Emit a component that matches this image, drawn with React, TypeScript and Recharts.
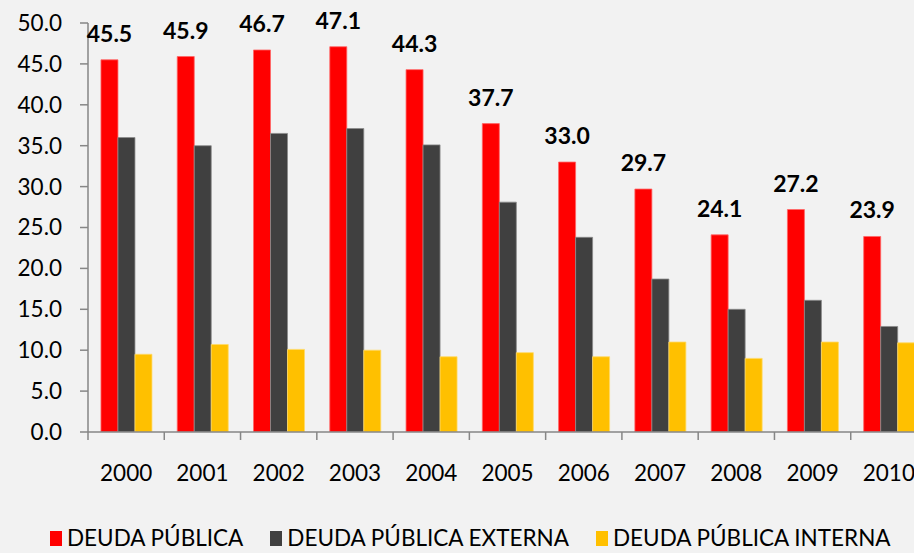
import { BarChart, Bar, XAxis, YAxis, LabelList } from 'recharts';

const years = ['2000', '2001', '2002', '2003', '2004', '2005', '2006', '2007', '2008', '2009', '2010'];
const deudaPublica = [45.5, 45.9, 46.7, 47.1, 44.3, 37.7, 33.0, 29.7, 24.1, 27.2, 23.9];
const deudaExterna = [36.0, 35.0, 36.5, 37.1, 35.1, 28.1, 23.8, 18.7, 15.0, 16.1, 12.9];
const deudaInterna = [9.5, 10.7, 10.1, 10.0, 9.2, 9.7, 9.2, 11.0, 9.0, 11.0, 10.9];
const yTicks = [0, 5, 10, 15, 20, 25, 30, 35, 40, 45, 50];

const series = [
  { key: 'publica', name: 'DEUDA PÚBLICA', color: '#ff0000', stroke: '#ff6666' },
  { key: 'externa', name: 'DEUDA PÚBLICA EXTERNA', color: '#404040', stroke: '#8a8a8a' },
  { key: 'interna', name: 'DEUDA PÚBLICA INTERNA', color: '#ffc000', stroke: '#ffd966' },
];

const data = years.map((year, i) => ({
  year,
  publica: deudaPublica[i],
  externa: deudaExterna[i],
  interna: deudaInterna[i],
}));

const FONT = 'Lato, "Open Sans", sans-serif';
const AXIS = '#868686';
const TICK_SIZE = 8;
const X_MARGIN = 25;

// category ticks sit between the groups, like the spreadsheet original
function YearTick(props: any) {
  const { x, y, payload } = props;
  const half = payload.offset || 0;
  const axisY = y - X_MARGIN - TICK_SIZE;
  return (
    <g>
      <line x1={x - half} x2={x - half} y1={axisY} y2={axisY + TICK_SIZE} stroke={AXIS} strokeWidth={1.5} />
      <text x={x} y={y} dy="0.71em" textAnchor="middle" fill="#000" fontSize={22.5} fontFamily={FONT}>
        {payload.value}
      </text>
    </g>
  );
}

export default function App() {
  return (
    <div
      style={{
        position: 'fixed',
        left: 0,
        top: 0,
        width: 914,
        height: 553,
        overflow: 'hidden',
        background: '#f2f2f2',
        fontFamily: FONT,
      }}
    >
      <BarChart
        width={940}
        height={553}
        data={data}
        margin={{ top: 23, right: 13, bottom: 61, left: 0 }}
        barCategoryGap="17%"
        barGap={0}
      >
        <XAxis
          dataKey="year"
          height={60}
          stroke={AXIS}
          strokeWidth={1.5}
          tickLine={false}
          tickSize={TICK_SIZE}
          tickMargin={X_MARGIN}
          tick={<YearTick />}
          interval={0}
        />
        <YAxis
          width={88}
          domain={[0, 50]}
          ticks={yTicks}
          stroke={AXIS}
          strokeWidth={1.5}
          tickSize={TICK_SIZE}
          tickMargin={18}
          tick={{ fill: '#000', fontSize: 22.5, fontFamily: FONT }}
          tickFormatter={(v: number) => v.toFixed(1)}
          allowDataOverflow
        />
        {series.map((s) => (
          <Bar
            key={s.key}
            dataKey={s.key}
            name={s.name}
            fill={s.color}
            stroke={s.stroke}
            strokeWidth={0.8}
            isAnimationActive={false}
          >
            {s.key === 'publica' && (
              <LabelList
                dataKey="publica"
                position="top"
                offset={18}
                fill="#000"
                fontSize={23}
                fontWeight="bold"
                fontFamily={FONT}
                formatter={(v: any) => Number(v).toFixed(1)}
              />
            )}
          </Bar>
        ))}
      </BarChart>

      <div
        style={{
          position: 'absolute',
          top: 526,
          left: 50,
          height: 24,
          display: 'flex',
          alignItems: 'center',
          fontSize: 22.5,
          lineHeight: '24px',
          color: '#000',
          whiteSpace: 'nowrap',
        }}
      >
        {series.map((s) => (
          <div key={s.key} style={{ display: 'flex', alignItems: 'center', marginRight: 27 }}>
            <div style={{ width: 12, height: 15, background: s.color, marginRight: 5 }} />
            <span>{s.name}</span>
          </div>
        ))}
      </div>
    </div>
  );
}
